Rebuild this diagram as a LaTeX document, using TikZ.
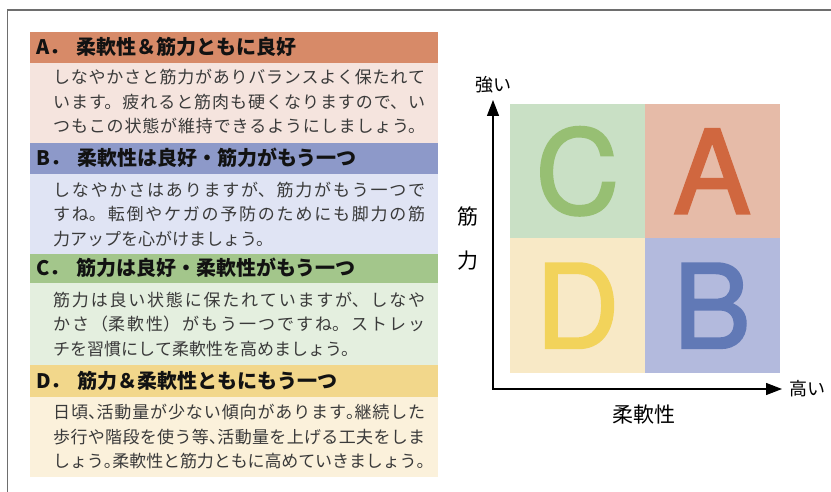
\documentclass[tikz,border=0pt]{standalone}
\usepackage{fontspec}
\setmainfont{Noto Sans CJK JP}
\newfontfamily\latf[FakeBold=2]{TeX Gyre Heros}
\usetikzlibrary{arrows.meta}
\XeTeXlinebreaklocale "ja"
\XeTeXlinebreakskip=0pt plus 2pt minus 0.7pt
\XeTeXlinebreakpenalty=0
\definecolor{hA}{HTML}{D78A68}
\definecolor{bA}{HTML}{F5E4DE}
\definecolor{hB}{HTML}{8D99C9}
\definecolor{bB}{HTML}{E0E4F4}
\definecolor{hC}{HTML}{A3C68B}
\definecolor{bC}{HTML}{E4EFDF}
\definecolor{hD}{HTML}{F2D78B}
\definecolor{bD}{HTML}{FBF1DB}
\definecolor{qA}{HTML}{E6BBA8}
\definecolor{lA}{HTML}{D0673F}
\definecolor{qB}{HTML}{B3BADD}
\definecolor{lB}{HTML}{6179B6}
\definecolor{qC}{HTML}{C9E0C5}
\definecolor{lC}{HTML}{97BF73}
\definecolor{qD}{HTML}{F8E9C6}
\definecolor{lD}{HTML}{F2D35B}
\definecolor{framec}{HTML}{6E6E6E}
\definecolor{textgray}{HTML}{3A3A3A}
\newcommand{\hw}[1]{\makebox[0.5em][l]{#1}}
\newcommand{\hgap}{\hspace{7pt}}
\begin{document}
\begin{tikzpicture}[x=1pt,y=-1pt,
  band/.style={inner sep=0pt, outer sep=0pt, anchor=north west, minimum width=408pt},
  hdrband/.style={band, minimum height=31pt},
  bodyband/.style={band, minimum height=80pt},
  hdrtext/.style={inner sep=0pt, anchor=base west, font=\fontsize{20}{24}\selectfont\bfseries, text=black!93},
  bodytext/.style={inner sep=0pt, anchor=base west, text width=372pt, align=justify,
    font=\fontsize{17}{24.5}\selectfont, text=textgray},
  quad/.style={inner sep=0pt, outer sep=0pt, minimum width=135pt, minimum height=134.5pt,
    font=\fontsize{116}{116}\latf},
  axis/.style={line width=1.3pt, {Triangle[length=16pt,width=12pt]}-{Triangle[length=16pt,width=12pt]}},
  axlabel/.style={inner sep=0pt, font=\fontsize{18}{20}\selectfont, text=black},
  axtitle/.style={inner sep=0pt, font=\fontsize{21}{24}\selectfont, text=black}
]
\useasboundingbox (0,0) rectangle (831,492);
\draw[framec, line width=1.2pt] (7.5,492) -- (7.5,10) -- (831,10);

% A
\node[hdrband, fill=hA] (hAb) at (30,32) {};
\node[bodyband, fill=bA] (bAb) at (30,63) {};
\node[hdrtext] (hAt) at (36,55) {A．\hgap 柔軟性＆筋力ともに良好};
\node[bodytext] (bAt) at (53,84) {\parfillskip=0pt しなやかさと筋力がありバランスよく保たれて\linebreak います。疲れると筋肉も硬くなりますので、い\linebreak つもこの状態が維持できるようにしましょう。\par};
% B
\node[hdrband, fill=hB] (hBb) at (30,143) {};
\node[bodyband, minimum height=111pt, fill=bB] (bBb) at (30,174) {};
\node[hdrband, fill=hC] (hCb) at (30,254) {};
\node[hdrtext] (hBt) at (36,166) {B．\hgap 柔軟性は良好・筋力がもう一つ};
\node[bodytext] (bBt) at (53,196.5) {しなやかさはありますが、筋力がもう一つで\linebreak すね。転倒やケガの予防のためにも脚力の筋\linebreak 力アップを心がけましょう。\par};
% C
\node[bodyband, minimum height=82pt, fill=bC] (bCb) at (30,283) {};
\node[hdrtext] (hCt) at (36,276) {C．\hgap 筋力は良好・柔軟性がもう一つ};
\node[bodytext] (bCt) at (53,306.5) {筋力は良い状態に保たれていますが、しなや\linebreak かさ（柔軟性）がもう一つですね。ストレッ\linebreak チを習慣にして柔軟性を高めましょう。\par};
% D
\node[hdrband, minimum height=32pt, fill=hD] (hDb) at (30,365) {};
\node[bodyband, fill=bD] (bDb) at (30,397) {};
\node[hdrtext] (hDt) at (36,388.6) {D．\hgap 筋力＆柔軟性ともにもう一つ};
\node[bodytext] (bDt) at (53,418.5) {\parfillskip=0pt 日頃\hw{、}活動量が少ない傾向があります\hw{。}継続した\linebreak 歩行や階段を使う等\hw{、}活動量を上げる工夫をしま\linebreak しょう\hw{。}柔軟性と筋力ともに高めていきましょう\hw{。}\par};

% quadrants
\node[quad, fill=qC, text=lC] (qc) at (577.5,171.25) {C};
\node[quad, fill=qA, text=lA] (qa) at (712,171.25) {A};
\node[quad, fill=qD, text=lD] (qd) at (577.5,305.75) {D};
\node[quad, fill=qB, text=lB] (qb) at (712,305.75) {B};

% axes
\coordinate (o) at (493,389);
\coordinate (ty) at (493,100);
\coordinate (tx) at (782,389);
\draw[axis] (ty) -- (o) -- (tx);
\node[axlabel] (strong) at (493.5,85) {強い};
\node[axlabel, anchor=west] (high) at (789,389) {高い};
\node[axtitle] (kin) at (467.5,216.5) {筋};
\node[axtitle] (ryoku) at (467.5,261) {力};
\node[axtitle] (jun) at (644,415) {柔軟性};
\end{tikzpicture}
\end{document}
